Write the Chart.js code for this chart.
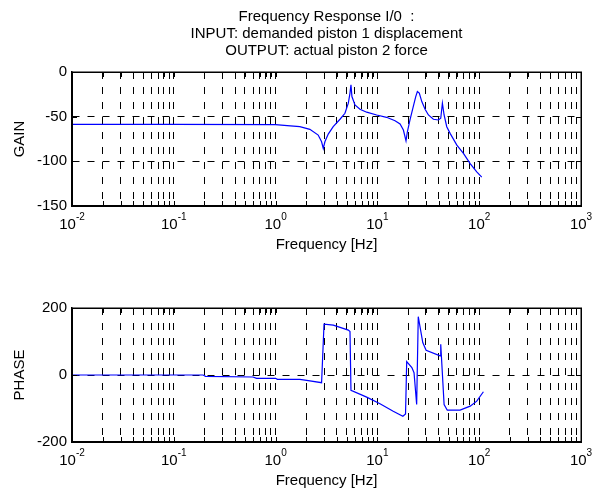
<!DOCTYPE html>
<html>
<head>
<meta charset="utf-8">
<script src="https://cdn.jsdelivr.net/npm/chart.js@4.4.0/dist/chart.umd.min.js"></script>
<style>
  html, body { margin: 0; padding: 0; background: #fff; }
  #wrap { position: relative; width: 604px; height: 489px; overflow: hidden; }
  #gain { position: absolute; left: 0; top: 0; }
  #phase { position: absolute; left: 0; top: 241px; }
</style>
</head>
<body>
<div id="wrap">
  <canvas id="gain" width="604" height="260"></canvas>
  <canvas id="phase" width="604" height="249"></canvas>
</div>
<script>
// frequency response data
const gainFreq = [0.01, 0.1, 1.0, 1.3, 1.73, 2.17, 2.62, 2.83, 2.94, 3.05, 3.29, 3.68, 4.29, 4.8, 5.18, 5.38, 5.5,
  5.62, 6.02, 6.74, 7.85, 9.84, 12.3, 14.9, 16.7, 18.0, 19.1, 19.7, 20.9, 22.5, 23.8, 24.7, 25.8, 27.3,
  29.4, 31.7, 35.5, 39.7, 41.9, 43.5, 45.2, 48.0, 51.8, 60.3, 70.0, 81.5, 94.6, 106];
const gainDb = [-58.6, -58.6, -58.8, -60, -61.2, -64.2, -70.6, -78.1, -85.6, -78.1, -69.5, -61.2, -52.9, -46.2, -34.9, -23.6, -14.3,
  -27.5, -36.8, -41.7, -45.0, -48.1, -50.7, -54.5, -58.2, -65.0, -77.0, -66.9, -53.7, -38.7, -27.5, -21.8, -23.6, -33.1,
  -41.7, -48.1, -52.9, -53.7, -51.8, -34.9, -48.1, -61.2, -68.7, -81.9, -91.2, -102.5, -111.9, -117.6];

const phaseFreq = [0.01, 0.194, 0.205, 0.6, 0.65, 1.0, 1.04, 1.73, 2.02, 2.83, 2.99, 3.69, 5.18, 5.38, 5.5, 7.85, 10.6,
  14.3, 17.8, 18.9, 19.4, 21.8, 22.9, 24.3, 25.2, 27.9, 30.1, 41.3, 41.9, 45.2, 48.6, 64.9, 81.5, 94.6, 110];
const phaseDeg = [0, 0, -4, -6, -10, -10, -13, -13, -16, -23, 152, 149, 134, 130, -46, -66, -86,
  -108, -123, -116, 40, 22, 7, -88, 174, 97, 74, 57, 92, -88, -105, -105, -93, -78, -50];

const gainTicks = [-150, -100, -50, 0];
const phaseTicks = [-200, 0, 200];
const xExponents = [-2, -1, 0, 1, 2, 3];
const minorSteps = [1, 2, 3, 4, 5, 6, 7, 8, 9];

Chart.defaults.font.family = '"Liberation Sans", Arial, sans-serif';
Chart.defaults.font.size = 15;
Chart.defaults.color = '#000';

function toPoints(xs, ys) {
  return xs.map((x, i) => ({ x: x, y: ys[i] }));
}

function logTicks() {
  const t = [];
  for (let i = 0; i < xExponents.length - 1; i++) {
    minorSteps.forEach(m => t.push({ value: m * Math.pow(10, xExponents[i]) }));
  }
  t.push({ value: Math.pow(10, xExponents[xExponents.length - 1]) });
  return t;
}

// matlab style box, inward ticks and 10^n labels
const matlabAxes = {
  id: 'matlabAxes',
  afterDraw(chart) {
    const ctx = chart.ctx;
    const a = chart.chartArea;
    const xs = chart.scales.x, ys = chart.scales.y;
    ctx.save();
    ctx.strokeStyle = '#000';
    ctx.lineWidth = 1;
    ctx.beginPath();
    xs.ticks.forEach(t => {
      const px = Math.round(xs.getPixelForValue(t.value)) + 0.5;
      ctx.moveTo(px, a.top); ctx.lineTo(px, a.top + 5);
      ctx.moveTo(px, a.bottom); ctx.lineTo(px, a.bottom - 5);
    });
    ys.ticks.forEach(t => {
      const py = Math.round(ys.getPixelForValue(t.value)) + 0.5;
      ctx.moveTo(a.left, py); ctx.lineTo(a.left + 5, py);
      ctx.moveTo(a.right, py); ctx.lineTo(a.right - 5, py);
    });
    ctx.stroke();
    ctx.lineWidth = 1.5;
    ctx.strokeRect(Math.round(a.left) + 0.25, Math.round(a.top) + 0.25, Math.round(a.right - a.left), Math.round(a.bottom - a.top));

    ctx.fillStyle = '#000';
    ctx.textBaseline = 'middle';
    ctx.textAlign = 'left';
    const y0 = a.bottom + 19;
    xExponents.forEach(e => {
      const px = xs.getPixelForValue(Math.pow(10, e));
      ctx.font = '15px "Liberation Sans", Arial, sans-serif';
      const w1 = ctx.measureText('10').width;
      ctx.font = '10px "Liberation Sans", Arial, sans-serif';
      const w2 = ctx.measureText(String(e)).width;
      const x0 = px - (w1 + w2) / 2;
      ctx.font = '15px "Liberation Sans", Arial, sans-serif';
      ctx.fillText('10', x0, y0);
      ctx.font = '10px "Liberation Sans", Arial, sans-serif';
      ctx.fillText(String(e), x0 + w1, y0 - 8);
    });
    ctx.restore();
  }
};

function makeChart(id, xs, ys, yMin, yMax, yTicks, yLabel, opts) {
  return new Chart(document.getElementById(id), {
    type: 'line',
    data: {
      datasets: [{
        data: toPoints(xs, ys),
        borderColor: '#0000ff',
        borderWidth: 1.2,
        pointRadius: 0,
        tension: 0,
        fill: false
      }]
    },
    options: {
      responsive: false,
      animation: false,
      layout: { padding: opts.padding },
      plugins: {
        legend: { display: false },
        tooltip: { enabled: false },
        title: opts.title
      },
      scales: {
        x: {
          type: 'logarithmic',
          min: 0.01,
          max: 1000,
          afterBuildTicks: s => { s.ticks = logTicks(); },
          afterFit: s => { s.height = opts.xHeight; },
          ticks: { display: false },
          grid: { color: '#000', lineWidth: 1, drawTicks: false },
          border: { display: true, color: '#000', width: 1.5, dash: [7, 8] },
          title: { display: true, text: 'Frequency [Hz]', font: { size: 15 }, padding: { top: 0, bottom: opts.xTitlePad } }
        },
        y: {
          min: yMin,
          max: yMax,
          afterBuildTicks: s => { s.ticks = yTicks.map(v => ({ value: v })); },
          afterFit: s => { s.width = 72; },
          ticks: { padding: 5, autoSkip: false },
          grid: { color: '#000', lineWidth: 1, drawTicks: false },
          border: { display: true, color: '#000', width: 1.5, dash: [7, 8] },
          title: { display: true, text: yLabel, font: { size: 15 }, padding: { top: 11, bottom: 0 } }
        }
      }
    },
    plugins: [matlabAxes]
  });
}

makeChart('gain', gainFreq, gainDb, -150, 0, gainTicks, 'GAIN', {
  padding: { right: 23 },
  xHeight: 54,
  xTitlePad: 6,
  title: {
    display: true,
    fullSize: false,
    text: ['Frequency Response I/0  :', 'INPUT: demanded piston 1 displacement', 'OUTPUT: actual piston 2 force'],
    font: { size: 15, weight: 'normal', lineHeight: 17 / 15 },
    color: '#000',
    padding: { top: 8, bottom: 13 }
  }
});

makeChart('phase', phaseFreq, phaseDeg, -200, 200, phaseTicks, 'PHASE', {
  padding: { top: 67, right: 23 },
  xHeight: 48,
  xTitlePad: 0,
  title: { display: false }
});
</script>
</body>
</html>
